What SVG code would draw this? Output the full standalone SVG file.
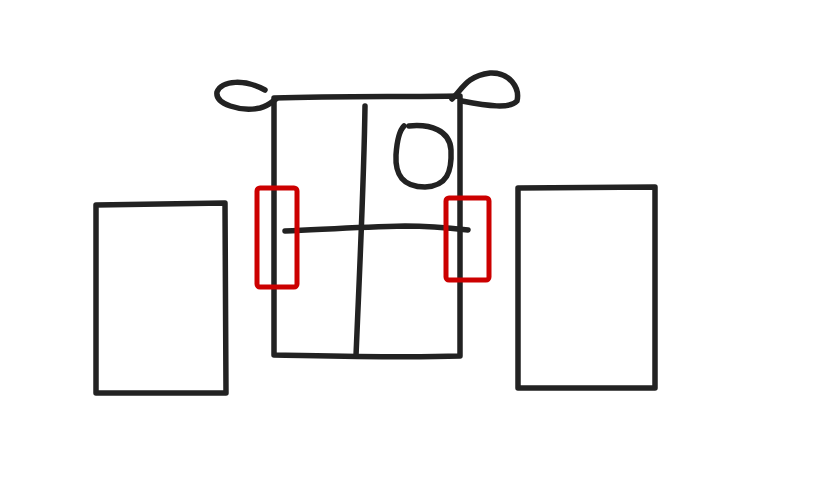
<svg xmlns="http://www.w3.org/2000/svg" width="832" height="500" viewBox="0 0 832 500">
<style>
.k{fill:none;stroke:#222;stroke-width:5.5;stroke-linecap:round;stroke-linejoin:round}
.r{fill:none;stroke:#c00;stroke-width:5;stroke-linejoin:round}
</style>
<rect width="832" height="500" fill="#fff"/>
<g id="left-box"><path class="k" d="M96,205 L225,203 L226,393 L96,393 Z"/></g>
<g id="right-box"><path class="k" d="M518,188 L655,187 L655,388 L518,388 Z"/></g>
<g id="center-box">
<path class="k" d="M274,98 C340,96 400,97 460,96 L460,356 C400,358 330,356 274,355 Z"/>
<path class="k" d="M265,90 C245,79 222,80 217,92 C215,104 240,112 260,108 C268,106 272,102 276,99"/>
<path class="k" d="M452,99 C462,90 466,76 490,73 C510,72 520,88 517,101 C510,109 488,106 462,101"/>
<path class="k" d="M365,106 C364,180 360,260 356,356"/>
<path class="k" d="M409,126 C430,124 450,130 451,150 C452,172 447,186 425,187 C403,187 395,175 396,155 C397,140 400,130 404,126"/>
<path class="k" d="M285,231 C330,229 360,227 405,226 C430,226 450,228 468,230"/>
</g>
<g id="markers">
<rect class="r" x="257" y="188" width="40" height="99" rx="3"/>
<rect class="r" x="446" y="198" width="43" height="82" rx="3"/>
</g>
</svg>
